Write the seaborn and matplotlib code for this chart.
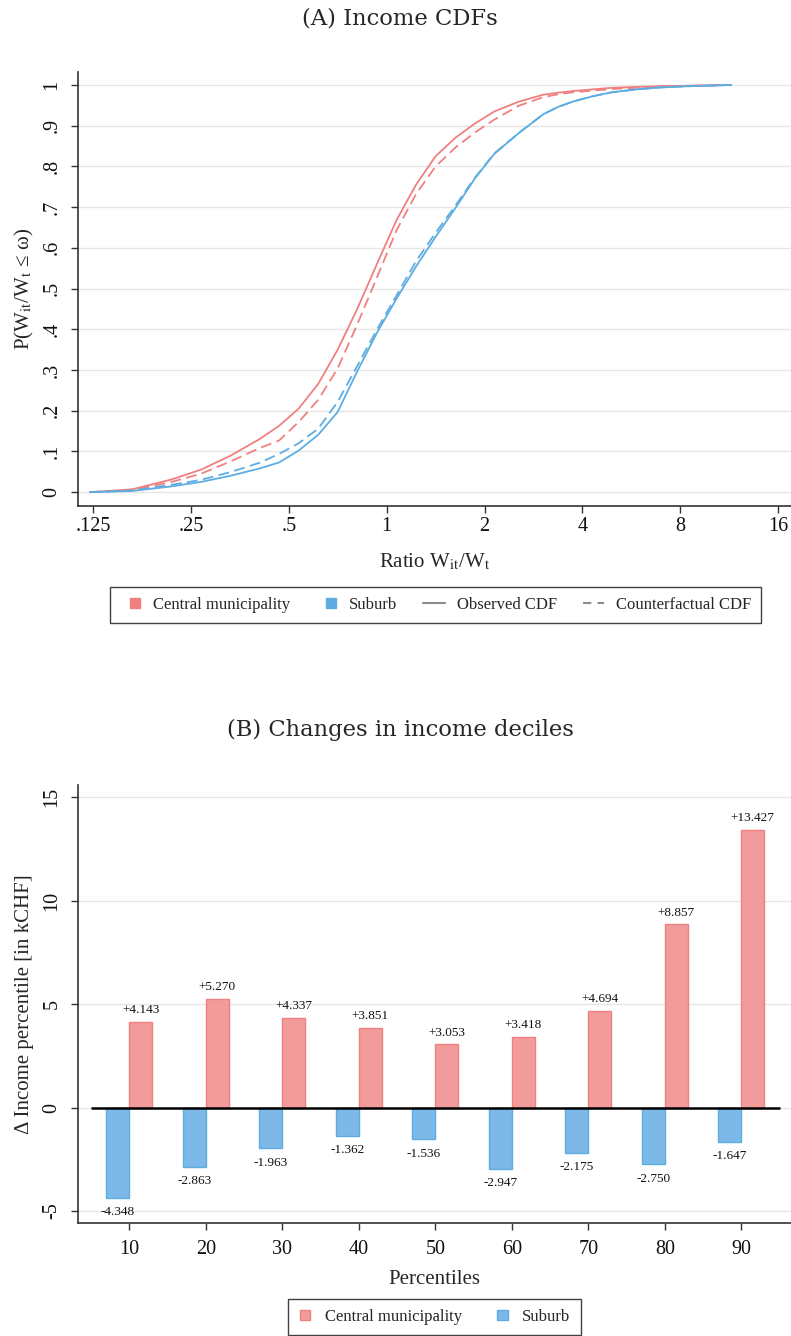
import numpy as np
import pandas as pd
import matplotlib
matplotlib.use("Agg")
import matplotlib.pyplot as plt
import seaborn as sns
from matplotlib.patches import Patch, Rectangle
from matplotlib.lines import Line2D
from matplotlib.legend_handler import HandlerBase
from matplotlib.ticker import NullLocator

sns.set_theme(style="white")
plt.rcParams["font.family"] = ["Liberation Serif", "DejaVu Serif"]
plt.rcParams["mathtext.fontset"] = "stix"

# ---- Panel A: income-ratio CDFs ----
ratio = [0.1224, 0.165, 0.2176, 0.268, 0.330, 0.406, 0.467, 0.536, 0.616, 0.707,
         0.812, 0.933, 1.072, 1.231, 1.414, 1.625, 1.866, 2.144, 2.549, 3.03,
         3.364, 3.732, 4.287, 4.925, 5.856, 6.964, 8.574, 11.47]
central_observed = [0.0, 0.007, 0.031, 0.055, 0.089, 0.130, 0.163, 0.205, 0.266, 0.350,
                    0.450, 0.560, 0.668, 0.755, 0.825, 0.870, 0.905, 0.935, 0.959, 0.976,
                    0.981, 0.985, 0.989, 0.993, 0.995, 0.997, 0.998, 1.0]
central_counterfactual = [0.0, 0.005, 0.025, 0.045, 0.075, 0.108, 0.127, 0.172, 0.227, 0.304,
                          0.412, 0.527, 0.643, 0.732, 0.800, 0.846, 0.883, 0.915, 0.949, 0.970,
                          0.977, 0.982, 0.986, 0.990, 0.993, 0.996, 0.998, 1.0]
suburb_observed = [0.0, 0.003, 0.014, 0.025, 0.040, 0.058, 0.073, 0.102, 0.141, 0.197,
                   0.297, 0.391, 0.475, 0.554, 0.627, 0.697, 0.770, 0.831, 0.882, 0.928,
                   0.946, 0.959, 0.972, 0.982, 0.989, 0.994, 0.997, 1.0]
suburb_counterfactual = [0.0, 0.004, 0.018, 0.030, 0.049, 0.072, 0.094, 0.120, 0.156, 0.222,
                         0.310, 0.399, 0.483, 0.567, 0.637, 0.703, 0.772, 0.832, 0.882, 0.928,
                         0.946, 0.959, 0.972, 0.982, 0.989, 0.994, 0.997, 1.0]
x_ticks = [0.125, 0.25, 0.5, 1, 2, 4, 8, 16]
x_tick_labels = [".125", ".25", ".5", "1", "2", "4", "8", "16"]
y_ticks = [0, 0.1, 0.2, 0.3, 0.4, 0.5, 0.6, 0.7, 0.8, 0.9, 1.0]
y_tick_labels = ["0", ".1", ".2", ".3", ".4", ".5", ".6", ".7", ".8", ".9", "1"]

# ---- Panel B: changes in income deciles (kCHF) ----
percentiles = [10, 20, 30, 40, 50, 60, 70, 80, 90]
central_change = [4.143, 5.270, 4.337, 3.851, 3.053, 3.418, 4.694, 8.857, 13.427]
suburb_change = [-4.348, -2.863, -1.963, -1.362, -1.536, -2.947, -2.175, -2.750, -1.647]

RED = "#F08080"
BLUE = "#5DADE2"
RED_FILL = "#F29B9B"
BLUE_FILL = "#7CB9E8"
AXIS_C = "#333333"
GRID_C = "#E6E6E6"
TICK_FS = 14.5
LABEL_FS = 15
TITLE_FS = 16.3

fig = plt.figure(figsize=(7.91, 13.36), dpi=100)
W, H = 791.0, 1336.0


def box(left, top, right, bottom):
    return [left / W, 1 - bottom / H, (right - left) / W, (bottom - top) / H]


def style_axes(ax, xpad):
    sns.despine(ax=ax)
    for s in ("left", "bottom"):
        ax.spines[s].set_color(AXIS_C)
        ax.spines[s].set_linewidth(1.2)
    ax.tick_params(axis="both", direction="out", length=5, width=1, color=AXIS_C,
                   labelsize=TICK_FS, labelcolor="#111111", left=True, bottom=True)
    ax.tick_params(axis="y", pad=7)
    ax.tick_params(axis="x", pad=xpad)
    ax.yaxis.grid(True, color=GRID_C, lw=1.0)
    ax.xaxis.grid(False)
    ax.set_axisbelow(True)


class SquareHandler(HandlerBase):
    """Small filled square placed next to the legend text."""

    def create_artists(self, legend, orig_handle, xdescent, ydescent, width,
                       height, fontsize, trans):
        s = 0.62 * fontsize
        x0 = -xdescent + width - s - 1.0
        y0 = -ydescent + (height - s) / 2
        r = Rectangle((x0, y0), s, s, facecolor=orig_handle.get_facecolor(),
                      edgecolor=orig_handle.get_edgecolor(), lw=1.0,
                      transform=trans)
        return [r]


# Panel A
ax1 = fig.add_axes(box(78.3, 71.5, 791, 506))
series = [
    (central_observed, RED, "-"),
    (central_counterfactual, RED, (0, (6, 3))),
    (suburb_observed, BLUE, "-"),
    (suburb_counterfactual, BLUE, (0, (6, 3))),
]
for vals, col, ls in series:
    sns.lineplot(x=ratio, y=vals, ax=ax1, color=col, linestyle=ls, lw=1.3,
                 sort=False, estimator=None)
ax1.set_xscale("log", base=2)
ax1.set_xlim(2 ** -3.15, 2 ** 4.13)
ax1.set_ylim(-0.034, 1.033)
ax1.set_xticks(x_ticks)
ax1.set_xticklabels(x_tick_labels)
ax1.xaxis.set_minor_locator(NullLocator())
ax1.set_yticks(y_ticks)
ax1.set_yticklabels(y_tick_labels, rotation=90, va="center")
style_axes(ax1, xpad=3)
ax1.set_xlabel(r"Ratio W$_{\mathrm{it}}$/W$_{\mathrm{t}}$", fontsize=LABEL_FS, labelpad=11)
ax1.set_ylabel(r"P(W$_{\mathrm{it}}$/W$_{\mathrm{t}}$ ≤ ω)", fontsize=LABEL_FS, labelpad=5)

fig.text(400 / W, 1 - 18 / H, "(A) Income CDFs", ha="center", va="center",
         fontsize=TITLE_FS, family="DejaVu Serif")

legA_handles = [
    Patch(facecolor=RED, edgecolor=RED),
    Patch(facecolor=BLUE, edgecolor=BLUE),
    Line2D([], [], color="#8C8C8C", lw=1.5),
    Line2D([], [], color="#8C8C8C", lw=1.5, linestyle=(0, (4, 3))),
]
legA_labels = ["Central municipality", "Suburb", "Observed CDF", "Counterfactual CDF"]
legA = fig.legend(legA_handles, legA_labels, loc="center", ncol=4,
                  bbox_to_anchor=(435.5 / W, 1 - 605 / H), fontsize=12,
                  frameon=True, fancybox=False, edgecolor="#111111",
                  handlelength=1.3, handleheight=0.7, columnspacing=1.55,
                  handletextpad=0.7, borderpad=0.6,
                  handler_map={Patch: SquareHandler()})
legA.get_frame().set_linewidth(1.0)

# Panel B
ax2 = fig.add_axes(box(78.3, 785, 791, 1223))
df = pd.DataFrame({
    "pct": percentiles * 2,
    "change": suburb_change + central_change,
    "group": ["Suburb"] * len(percentiles) + ["Central municipality"] * len(percentiles),
})
sns.barplot(data=df, x="pct", y="change", hue="group",
            hue_order=["Suburb", "Central municipality"],
            palette=[BLUE_FILL, RED_FILL], native_scale=True, width=0.6,
            dodge=True, errorbar=None, saturation=1, legend=False, ax=ax2,
            linewidth=1.0)
for cont in ax2.containers:
    heights = [p.get_height() for p in cont.patches]
    if all(h < 0 for h in heights):
        edge, vals, fmt, pad = BLUE, suburb_change, "{:.3f}", 6
    else:
        edge, vals, fmt, pad = RED, central_change, "+{:.3f}", 4
    for p in cont.patches:
        p.set_edgecolor(edge)
    ax2.bar_label(cont, labels=[fmt.format(v) for v in vals], padding=pad,
                  fontsize=9.5, color="#111111")

ax2.hlines(0, 5, 95, color="black", lw=1.8, zorder=3)
ax2.set_xlim(3.33, 96.5)
ax2.set_ylim(-5.58, 15.6)
ax2.set_xticks(percentiles)
ax2.set_xticklabels([str(p) for p in percentiles])
ax2.set_yticks([-5, 0, 5, 10, 15])
ax2.set_yticklabels(["-5", "0", "5", "10", "15"], rotation=90, va="center")
style_axes(ax2, xpad=7)
ax2.set_xlabel("Percentiles", fontsize=LABEL_FS, labelpad=8)
ax2.set_ylabel("Δ Income percentile [in kCHF]", fontsize=LABEL_FS, labelpad=6)

fig.text(400 / W, 1 - 730 / H, "(B) Changes in income deciles", ha="center",
         va="center", fontsize=TITLE_FS, family="DejaVu Serif")

legB_handles = [
    Patch(facecolor=RED_FILL, edgecolor=RED),
    Patch(facecolor=BLUE_FILL, edgecolor=BLUE),
]
legB = fig.legend(legB_handles, ["Central municipality", "Suburb"], loc="center",
                  ncol=2, bbox_to_anchor=(434.5 / W, 1 - 1317 / H), fontsize=12,
                  frameon=True, fancybox=False, edgecolor="#111111",
                  handlelength=0.8, handleheight=0.7, columnspacing=2.0,
                  handletextpad=0.8, borderpad=0.6,
                  handler_map={Patch: SquareHandler()})
legB.get_frame().set_linewidth(1.0)

fig.savefig("out.png", dpi=100)
